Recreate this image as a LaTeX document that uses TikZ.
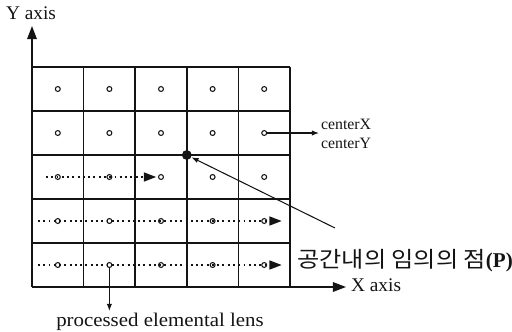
\documentclass[tikz,border=0pt]{standalone}
\usepackage{fontspec}
\usepackage{graphicx}
\setmainfont{Liberation Serif}
\newfontfamily\krfont{Noto Sans CJK KR}
\usetikzlibrary{arrows.meta}
\definecolor{ink}{RGB}{20,20,20}

\tikzset{
  gridline/.style={ink, line width=0.8pt},
  lens/.style={circle, draw=ink, line width=0.6pt, inner sep=0pt, minimum size=2.8pt},
  scanarrow/.style={ink, dash pattern=on 1.1pt off 1.9pt, line width=1.1pt, -{Triangle[length=7pt,width=5pt]}},
  axisarrow/.style={ink, line width=0.8pt, -{Triangle[length=7.5pt,width=5.5pt]}},
  pointer/.style={ink, line width=0.6pt, -{Latex[length=4pt,width=3pt]}},
  label/.style={font=\fontsize{11}{13}\selectfont, text=ink, inner sep=1pt}
}

\begin{document}
\begin{tikzpicture}[x=0.02cm, y=-0.02cm]
\useasboundingbox (0,0) rectangle (512,332);

% ── Grid of elemental lenses ──
\foreach \gx in {32, 83.6, 135.2, 186.8, 238.4, 290} {
  \draw[gridline] (\gx, 67) -- (\gx, 287);
}
\foreach \gy in {67, 111, 155, 199, 243, 287} {
  \draw[gridline] (32, \gy) -- (290, \gy);
}

% ── lens centres ──
\foreach \r/\cy in {1/89, 2/133, 3/177, 4/221, 5/265} {
  \foreach \c/\cx in {1/57.8, 2/109.4, 3/161, 4/212.6, 5/264.2} {
    \node[lens] (c\r\c) at (\cx, \cy) {};
  }
}

% ── Axes ──
\coordinate (origin) at (32, 287);
\coordinate (ytip) at (32, 26);
\coordinate (xtip) at (346, 287);
\draw[axisarrow] (origin) -- (ytip);
\draw[axisarrow] (origin) -- (xtip);
\node[label, anchor=south] (ylabel) at (31, 22) {Y axis};
\node[label, anchor=west] (xlabel) at (349, 285) {X axis};

% ── Scan order (dotted) ──
\coordinate (scan3) at (46, 177);
\coordinate (scan4) at (38, 221);
\coordinate (scan5) at (38, 265);
\draw[scanarrow] (scan3) -- ([xshift=-1pt]c33.west);
\draw[scanarrow] (scan4) -- ([xshift=10pt]c45.center);
\draw[scanarrow] (scan5) -- ([xshift=10pt]c55.center);

% ── Arbitrary point P ──
\node[circle, fill=ink, inner sep=0pt, minimum size=5.6pt] (P) at (186.8, 155) {};
\node[font=\fontsize{12.5}{14}\selectfont, text=ink, anchor=west, inner sep=0pt] (plabel) at (297, 261)
  {\scalebox{1.1}[1]{\krfont 공간내의 임의의 점}\textbf{\fontsize{12}{14}\selectfont(P)}};
\coordinate (pstart) at (335, 228);
\draw[pointer] (pstart) -- (P);

% ── centerX / centerY ──
\node[font=\fontsize{9}{11}\selectfont, text=ink, align=left, anchor=west, inner sep=1pt] (centre) at (319, 134)
  {centerX\\centerY};
\draw[pointer] (c25) -- (c25 -| centre.west);

% ── processed lens ──
\node[label, anchor=north] (proclabel) at (160, 311) {\scalebox{1.08}[1]{processed elemental lens}};
\draw[pointer] (c52) -- (c52 |- proclabel.north);

\end{tikzpicture}
\end{document}
